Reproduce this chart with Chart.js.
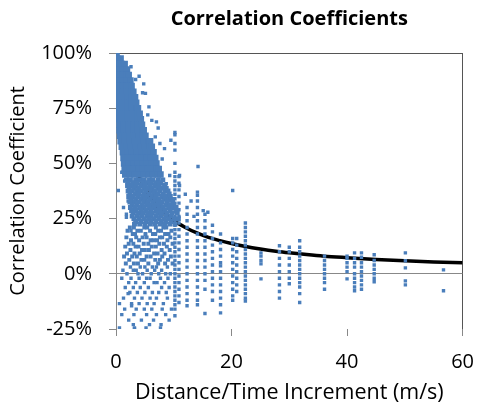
<!DOCTYPE html>
<html>
<head>
<meta charset="utf-8">
<script src="https://cdn.jsdelivr.net/npm/chart.js@4.4.0/dist/chart.umd.min.js"></script>
<style>
  html, body { margin: 0; padding: 0; background: #fff; }
  canvas { display: block; }
</style>
</head>
<body>
<canvas id="chart" width="488" height="404"></canvas>
<script>
// axis ticks
const xTicks = [0, 20, 40, 60];
const yTicks = [-25, 0, 25, 50, 75, 100];

// fitted curve (x in m/s, y in %)
const fitX = [0, 0.5, 1, 1.5, 2, 3, 4, 5, 6, 7, 8, 10, 12, 14, 16, 18, 20, 22, 25, 28, 30, 33, 36, 40, 45, 50, 55, 60];
const fitY = [100, 86, 76, 68, 61, 51, 44, 39, 34.5, 31, 28, 24, 21, 18.5, 16.5, 15, 13.7, 12.6, 11.2, 10.1, 9.5, 8.7, 8, 7.3, 6.5, 5.9, 5.4, 5];

// solid upper core of the cloud: [y%, [x...]]
const coreRows = [
  [100, [0.1]],
  [97.5, [0.2, 0.8]],
  [95, [0.2, 1.0, 1.5]],
  [92.5, [0.3, 1.1, 1.9]],
  [90, [0.3, 1.1, 1.9, 2.2]],
  [87.5, [0.3, 1.1, 1.9, 2.5]],
  [85, [0.3, 1.1, 1.9, 2.7]],
  [82.5, [0.3, 1.1, 1.9, 2.7, 3.0]],
  [80, [0.4, 1.2, 2.0, 2.8, 3.3]],
  [77.5, [0.4, 1.2, 2.0, 2.8, 3.5]],
  [75, [0.4, 1.2, 2.0, 2.8, 3.6, 3.8]],
  [72.5, [0.5, 1.3, 2.1, 2.9, 3.7, 4.1]],
  [70, [0.5, 1.3, 2.1, 2.9, 3.7, 4.3]],
  [67.5, [0.6, 1.4, 2.2, 3.0, 3.8, 4.5]],
  [65, [0.6, 1.4, 2.2, 3.0, 3.8, 4.6, 4.8]],
  [62.5, [0.7, 1.5, 2.3, 3.1, 3.9, 4.7, 5.1]],
  [60, [0.8, 1.6, 2.4, 3.2, 4.0, 4.8, 5.6, 5.9]],
  [57.5, [1.0, 1.8, 2.6, 3.4, 4.2, 5.0, 5.8, 6.2]],
  [55, [1.2, 2.0, 2.8, 3.6, 4.4, 5.2, 6.0, 6.5]],
  [52.5, [1.3, 2.1, 2.9, 3.7, 4.5, 5.3, 6.1, 6.8]],
  [50, [1.4, 2.2, 3.0, 3.8, 4.6, 5.4, 6.2, 7.0]],
  [47.5, [1.5, 2.3, 3.1, 3.9, 4.7, 5.5, 6.3, 7.1, 7.4]],
  [45, [1.6, 2.4, 3.2, 4.0, 4.8, 5.6, 6.4, 7.2, 7.7]]
];

// textured middle of the cloud: [y%, [x...]]
const midRows = [
  [42.5, [1.8, 2.5, 3.4, 4.1, 4.9, 5.8, 6.4, 7.3, 8.1]],
  [41.2, [2.1, 2.9, 3.7, 4.6, 5.3, 6.1, 6.9, 7.7]],
  [40, [2.0, 2.7, 3.5, 4.3, 5.1, 5.9, 6.7, 7.5, 8.4]],
  [38.7, [2.3, 3.1, 3.9, 4.8, 5.5, 6.3, 7.2, 8.0, 8.7]],
  [37.5, [2.1, 2.8, 3.6, 4.4, 5.2, 6.1, 6.8, 7.6, 8.5, 9.0]],
  [36.2, [2.4, 3.3, 4.0, 4.9, 5.7, 6.5, 7.3, 8.2, 9.2]],
  [35, [2.2, 3.0, 3.8, 4.6, 5.4, 6.2, 7.0, 7.9, 8.7, 9.4]],
  [33.7, [2.6, 3.4, 4.3, 5.1, 5.9, 6.7, 7.5, 8.4, 9.1, 9.6]],
  [32.5, [2.4, 3.2, 4.0, 4.8, 5.6, 6.4, 7.2, 8.0, 8.9, 9.8]],
  [31.2, [2.8, 3.6, 4.5, 5.3, 6.1, 6.9, 7.7, 8.6, 9.4, 10.0]],
  [30, [2.5, 3.3, 4.1, 4.9, 5.8, 6.6, 7.4, 8.2, 9.1, 9.9, 10.4]],
  [28.7, [2.7, 3.5, 4.4, 5.2, 6.0, 6.9, 7.7, 8.5, 9.4, 10.5]],
  [27.5, [3.0, 3.9, 4.7, 5.5, 6.3, 7.2, 8.0, 8.8, 9.7, 10.6]],
  [26.2, [2.8, 3.7, 4.5, 5.4, 6.1, 7.0, 7.8, 8.7, 9.5]],
  [25, [3.1, 4.0, 4.9, 5.7, 6.5, 7.4, 8.3, 9.1, 10.0, 10.8]],
  [23.7, [3.4, 4.3, 5.2, 6.0, 6.9, 7.8, 8.6, 9.5]],
  [22.5, [3.2, 4.1, 5.0, 5.9, 6.7, 7.6, 8.4, 9.3, 10.2]]
];

// looser band between 20% and 5%: [y%, [x...]]
const bandRows = [
  [21, [2.4, 3.1, 4.9, 5.4, 6.9, 8.2, 8.7]],
  [19.5, [2.0, 3.7, 4.3, 5.9, 7.3, 7.8, 9.6]],
  [18, [2.9, 3.3, 5.1, 6.4, 6.8, 8.5, 9.1]],
  [16.5, [1.8, 3.5, 4.6, 5.3, 7.6, 8.0, 9.4]],
  [15.2, [2.6, 4.0, 6.0, 6.5, 7.1, 8.9]],
  [13.6, [2.2, 3.0, 4.8, 5.6, 7.5, 8.3, 9.8]],
  [12.3, [1.6, 3.4, 3.9, 6.2, 6.9, 8.8]],
  [10.8, [2.5, 4.5, 5.0, 5.7, 7.9, 9.3]],
  [9.2, [1.9, 3.2, 4.1, 6.6, 7.2, 8.4]],
  [7.8, [1.4, 2.8, 3.6, 5.3, 6.0, 8.0, 9.5]],
  [6.3, [2.3, 4.4, 4.9, 6.8, 7.6, 9.0]],
  [4.7, [1.7, 3.1, 3.8, 5.6, 7.3, 8.5, 9.8]]
];

// sparse lower part of the cloud: [y%, [x...]]
const lowRows = [
  [3.1, [2.5, 4.2, 5.0, 6.3, 7.0, 8.9]],
  [1.6, [1.2, 3.0, 3.5, 5.4, 6.7, 7.9]],
  [0, [1.9, 3.8, 4.6, 6.1, 7.4, 8.6, 9.4]],
  [-2, [1.0, 2.6, 4.0, 5.3, 5.9, 7.7, 9.0]],
  [-4, [2.2, 3.4, 4.9, 6.6, 7.1, 8.4]],
  [-6.2, [1.6, 3.0, 4.2, 5.6, 7.9, 9.2]],
  [-8.5, [2.4, 3.7, 5.0, 6.3, 7.4, 8.7]],
  [-11, [1.3, 3.2, 4.5, 5.9, 7.0, 8.9]],
  [-13.5, [0.6, 2.7, 4.0, 5.4, 6.6, 8.2]],
  [-16, [1.5, 3.5, 4.9, 6.2, 8.0, 9.6]],
  [-18.5, [1.0, 3.1, 5.3, 7.0, 8.6]],
  [-21, [2.2, 4.4, 6.5, 9.2]],
  [-23, [3.0, 5.8, 7.8]],
  [-24.5, [0.6, 3.2, 5.2, 7.7]]
];

// vertical stripes of points at fixed speeds: [x, [y%...]]
const columns = [
  [10.2, [64, 63, 59, 56, 50, 46, 44, 42, 40, 38, 36, 34, 32, 30, 28, 26, 24, 22, 20, 18, 16, 14, 12, 10, 8, 6, 4, 2, 0, -2, -4, -6, -8, -10, -12, -14, -16, -19]],
  [10.9, [44, 41, 38, 35, 32, 29, 26, 23, 20, 17, 14, 11, 8, 5, 2, -1, -4, -7, -10, -13]],
  [12.3, [30, 27, 24, 21, 18, 15, 12, 9, 6, 3, 0, -3, -6, -9, -12, -14.5]],
  [14.1, [37, 35.5, 33, 30, 27, 24, 21, 18, 15, 12, 9, 6, 3, 0, -3, -6, -9, -12, -14]],
  [15.4, [27, 24, 21, 18, 15, 12, 9, 6, 3, 0, -3, -7, -18]],
  [16.7, [22, 19, 16, 13, 10, 7, 4, 1, -2, -5, -8, -12]],
  [18.1, [18, 14, 11, 8, 5, 3.6, 1, -2, -5, -8, -11, -14, -17.7]],
  [20.2, [16, 14, 11, 8, 5, 2, -1, -4, -7, -10, -12]],
  [20.9, [16, 13, 10, 7, 4, 1, -2, -5, -8]],
  [22.4, [23, 21, 19, 17, 15, 13, 11, 9, 7, 5, 3, 1, -1, -3, -5, -7, -9, -11, -12.3]],
  [25.1, [9.5, 8, 6, 4.5, -2.3]],
  [28.3, [12.7, 10, 7, 4, 1, -2, -5, -8, -11]],
  [30.0, [12, 10, 7, 4, 1, -2, -4.5]],
  [31.8, [15, 12, 10, 8, 6, 4, 2, 0, -2, -4, -6, -9, -13]],
  [36.1, [8, 6, 4, 2, 0, -2, -4, -7]],
  [40.0, [8, 7, 5, 3, 1, -2.3]],
  [41.3, [9.5, 7, 5, 3, 0, -2, -4, -6, -7.7]],
  [42.5, [9.5, 7.5, 5, 3, 1, -1, -3, -5, -7]],
  [44.7, [8.6, 6, 4, 2, 0, -2, -3.6]],
  [50.1, [9.5, 5.9, 2.7, -3.2, -5]],
  [56.7, [1.8, -7.7]]
];

// single stray points: [x, y%]
const strays = [
  [2.6, 93.8], [4.0, 89.5], [3.4, 88], [4.8, 86], [4.6, 82], [5.1, 81.7], [5.7, 75.6], [5.5, 72],
  [6.2, 69.5], [7.0, 68.8], [7.3, 66], [6.8, 62], [9.5, 60.5], [7.6, 59], [8.4, 56.7], [8.0, 52],
  [11.0, 44.5], [9.3, 44.5], [8.7, 40.8], [11.0, 40], [1.2, 46], [2.3, 48], [1.5, 42], [0.4, 37.7],
  [1.0, 46], [1.3, 30], [1.8, 25.6], [2.1, 33], [1.8, 27], [2.6, 19.5], [14.2, 48.6], [20.2, 37.7],
  [12.0, 36], [13.0, 33], [15.1, 28.6], [15.9, 27.9], [13.5, 26], [2.1, -9], [2.7, -14.5], [3.2, -25]
];

const blue = '#4a7ebb';
const font = "'Open Sans', 'DejaVu Sans', sans-serif";

const fromRows = rows => rows.flatMap(([y, xs]) => xs.map(x => ({x, y})));

const smallPts = fromRows(lowRows);
columns.forEach(([x, ys]) => ys.forEach(y => smallPts.push({x, y})));
strays.forEach(([x, y]) => smallPts.push({x, y}));

const fitPts = fitX.map((x, i) => ({x, y: fitY[i]}));

const dots = (data, r) => ({ data, pointStyle: 'rect', pointRadius: r, backgroundColor: blue, borderWidth: 0, order: 1 });

new Chart(document.getElementById('chart'), {
  type: 'scatter',
  data: {
    datasets: [
      dots(fromRows(coreRows), 4.6),
      dots(fromRows(midRows), 3.5),
      dots(fromRows(bandRows), 2.8),
      dots(smallPts, 2.4),
      { type: 'line', data: fitPts, borderColor: '#000', borderWidth: 3.5, pointRadius: 0,
        cubicInterpolationMode: 'monotone', fill: false, order: 2 }
    ]
  },
  options: {
    responsive: false,
    animation: false,
    devicePixelRatio: 1,
    layout: { padding: { left: 0, right: 13, top: 0, bottom: 0 } },
    plugins: {
      legend: { display: false },
      tooltip: { enabled: false },
      title: {
        display: true,
        text: 'Correlation Coefficients',
        fullSize: false,
        color: '#000',
        font: { family: font, size: 20, weight: 'bold', lineHeight: 1.2 },
        padding: { top: 7, bottom: 22 }
      }
    },
    scales: {
      x: {
        type: 'linear',
        min: 0, max: 60,
        afterFit: s => { s.height = 75; },
        afterBuildTicks: s => { s.ticks = xTicks.map(v => ({value: v})); },
        ticks: { color: '#000', padding: 14, font: { family: font, size: 20 } },
        grid: {
          drawOnChartArea: true,
          color: c => (c.tick && c.tick.value === 60) ? '#555' : 'rgba(0,0,0,0)',
          tickColor: '#888',
          tickLength: 7
        },
        border: { display: false },
        title: {
          display: true,
          text: 'Distance/Time Increment (m/s)',
          color: '#000',
          font: { family: font, size: 21.5, lineHeight: 1 },
          padding: { top: 0, bottom: 0 }
        }
      },
      y: {
        type: 'linear',
        min: -25, max: 100,
        afterFit: s => { s.width = 116; },
        afterBuildTicks: s => { s.ticks = yTicks.map(v => ({value: v})); },
        ticks: { color: '#000', padding: 17, font: { family: font, size: 20 }, callback: v => v + '%' },
        grid: {
          drawOnChartArea: true,
          color: c => {
            if (!c.tick) return 'rgba(0,0,0,0)';
            if (c.tick.value === 100) return '#555';
            if (c.tick.value === 0) return '#888';
            return 'rgba(0,0,0,0)';
          },
          tickColor: '#888',
          tickLength: 7
        },
        border: { display: true, color: '#888' },
        title: {
          display: true,
          text: 'Correlation Coefficient',
          color: '#000',
          font: { family: font, size: 20, lineHeight: 1 },
          padding: { top: 8, bottom: 0 }
        }
      }
    }
  }
});
</script>
</body>
</html>
